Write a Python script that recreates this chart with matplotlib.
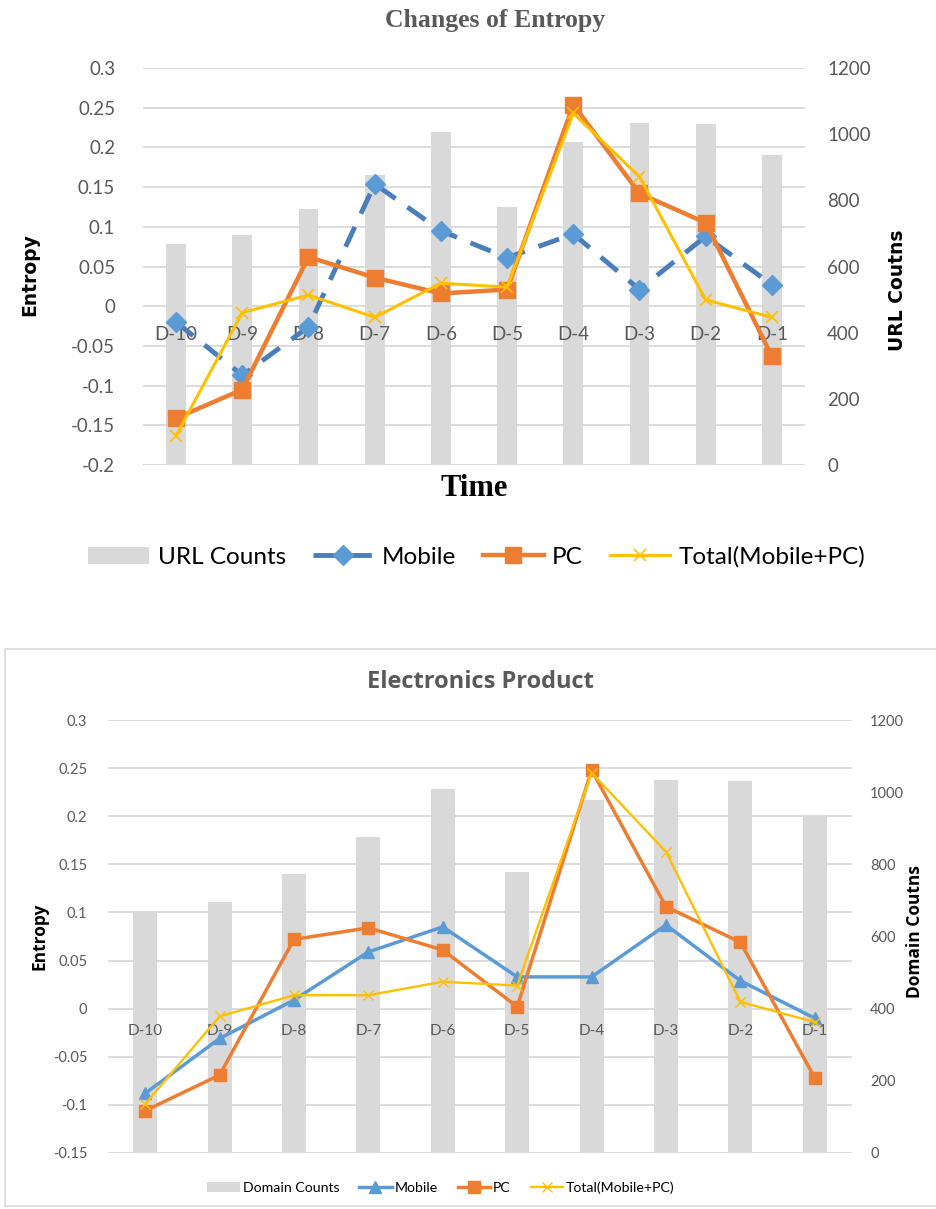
import numpy as np
import matplotlib
matplotlib.use("Agg")
import matplotlib.pyplot as plt
from matplotlib.patches import Patch, Rectangle
from matplotlib.lines import Line2D

days = ["D-10", "D-9", "D-8", "D-7", "D-6", "D-5", "D-4", "D-3", "D-2", "D-1"]

# top chart: Changes of Entropy
urlCounts = [668, 695, 774, 877, 1008, 780, 977, 1034, 1031, 938]
mobileTop = [-0.020, -0.087, -0.026, 0.154, 0.095, 0.061, 0.091, 0.021, 0.088, 0.027]
pcTop = [-0.141, -0.105, 0.062, 0.036, 0.016, 0.021, 0.254, 0.142, 0.105, -0.063]
totalTop = [-0.163, -0.008, 0.014, -0.014, 0.029, 0.024, 0.243, 0.163, 0.008, -0.014]

# bottom chart: Electronics Product
domainCounts = [668, 695, 774, 877, 1008, 780, 977, 1034, 1031, 938]
mobileBottom = [-0.088, -0.031, 0.009, 0.059, 0.085, 0.033, 0.033, 0.087, 0.029, -0.010]
pcBottom = [-0.106, -0.069, 0.072, 0.084, 0.061, 0.002, 0.248, 0.106, 0.069, -0.072]
totalBottom = [-0.099, -0.008, 0.014, 0.014, 0.028, 0.024, 0.245, 0.163, 0.007, -0.014]

BAR = "#D9D9D9"
BLUE_DARK = "#4A7EBB"
BLUE = "#5B9BD5"
ORANGE = "#ED7D31"
YELLOW = "#FFC000"
GRAY_TXT = "#595959"
GRID = "#D9D9D9"

W, H = 937, 1209
fig = plt.figure(figsize=(W / 100, H / 100), dpi=100)
plt.rcParams["font.family"] = ["Lato", "DejaVu Sans"]


def px(x0, y0, x1, y1):
    return [x0 / W, 1 - y1 / H, (x1 - x0) / W, (y1 - y0) / H]


def makeChart(rect, ylim, yticks, counts, mob, pc, tot, style):
    axBar = fig.add_axes(rect)
    ax = fig.add_axes(rect, sharex=axBar)
    ax.patch.set_visible(False)
    x = np.arange(len(days))

    axBar.bar(x, counts, width=style["barw"], color=BAR, zorder=1)
    axBar.set_ylim(0, 1200)
    axBar.set_yticks(np.arange(0, 1201, 200))
    axBar.yaxis.tick_right()
    axBar.tick_params(axis="y", length=0, pad=style["rpad"], labelsize=style["tick"], labelcolor=GRAY_TXT)
    axBar.tick_params(axis="x", length=0, labelbottom=False)
    for s in axBar.spines.values():
        s.set_visible(False)
    axBar.set_xlim(-0.5, len(days) - 0.5)

    ax.set_ylim(*ylim)
    ax.set_yticks(yticks)
    ax.set_yticklabels(["0" if abs(v) < 1e-9 else ("%g" % v) for v in yticks])
    ax.grid(axis="y", color=GRID, linewidth=1.3)
    ax.set_axisbelow(True)
    ax.tick_params(axis="y", length=0, pad=style["lpad"], labelsize=style["tick"], labelcolor=GRAY_TXT,
                   left=False, right=False, labelright=False)
    ax.set_xticks(x)
    ax.set_xticklabels(days)
    ax.tick_params(axis="x", length=0, pad=style["xpad"], labelsize=style["cat"], labelcolor=GRAY_TXT)
    for s in ax.spines.values():
        s.set_visible(False)
    ax.spines["bottom"].set_position(("data", 0))

    ax.plot(x, mob, **style["mobile"])
    ax.plot(x, pc, **style["pc"])
    ax.plot(x, tot, **style["total"])
    return ax


# ---------- top chart ----------
topStyle = {
    "barw": 0.3, "rpad": 16, "lpad": 20, "xpad": 14, "tick": 13.5, "cat": 13.5,
    "mobile": dict(color=BLUE_DARK, lw=3.5, dashes=(4.5, 3), marker="D", ms=10,
                   mfc=BLUE, mec=BLUE, zorder=3),
    "pc": dict(color=ORANGE, lw=3.2, marker="s", ms=12, mfc=ORANGE, mec=ORANGE, zorder=4),
    "total": dict(color=YELLOW, lw=2.2, marker="x", ms=9, mew=1.2, zorder=5),
}
makeChart(px(143, 68, 805, 465), (-0.2, 0.3), np.round(np.arange(-0.2, 0.301, 0.05), 2),
          urlCounts, mobileTop, pcTop, totalTop, topStyle)

fig.text(495 / W, 1 - 20 / H, "Changes of Entropy", ha="center", va="center",
         fontsize=18.5, fontweight="bold", color=GRAY_TXT, family="Liberation Serif")
fig.text(30 / W, 1 - 275 / H, "Entropy", rotation=90, ha="center", va="center",
         fontsize=13.5, fontweight="bold", family="DejaVu Sans")
fig.text(898 / W, 1 - 290 / H, "URL Coutns", rotation=90, ha="center", va="center",
         fontsize=13.5, fontweight="bold", family="DejaVu Sans")
fig.text(474 / W, 1 - 488 / H, "Time", ha="center", va="center",
         fontsize=22, fontweight="bold", family="Liberation Serif")

topHandles = [
    Patch(facecolor=BAR, edgecolor="none", label="URL Counts"),
    Line2D([], [], label="Mobile", **topStyle["mobile"]),
    Line2D([], [], label="PC", **topStyle["pc"]),
    Line2D([], [], label="Total(Mobile+PC)", **topStyle["total"]),
]
fig.legend(handles=topHandles, loc="center", bbox_to_anchor=(477 / W, 1 - 557 / H), ncol=4,
           frameon=False, fontsize=17.5, handlelength=2.5, handletextpad=0.35, columnspacing=1.1)

# ---------- bottom chart ----------
fig.patches.append(Rectangle((5 / W, 1 - 1206 / H), (W - 5) / W, (1206 - 649) / H,
                             transform=fig.transFigure, fill=False, edgecolor="#D9D9D9", lw=1.2))

bottomStyle = {
    "barw": 0.32, "rpad": 13, "lpad": 15, "xpad": 11, "tick": 10.5, "cat": 11,
    "mobile": dict(color=BLUE, lw=2.5, marker="^", ms=9, mfc=BLUE, mec=BLUE, zorder=3),
    "pc": dict(color=ORANGE, lw=2.5, marker="s", ms=8, mfc=ORANGE, mec=ORANGE, zorder=4),
    "total": dict(color=YELLOW, lw=1.7, marker="x", ms=7, mew=1, zorder=5),
}
makeChart(px(108, 720, 852, 1153), (-0.15, 0.3), np.round(np.arange(-0.15, 0.301, 0.05), 2),
          domainCounts, mobileBottom, pcBottom, totalBottom, bottomStyle)

fig.text(480 / W, 1 - 682 / H, "Electronics Product", ha="center", va="center",
         fontsize=17, fontweight="bold", color=GRAY_TXT, family="Open Sans")
fig.text(40 / W, 1 - 936 / H, "Entropy", rotation=90, ha="center", va="center",
         fontsize=12.5, fontweight="bold", family="Open Sans")
fig.text(915 / W, 1 - 932 / H, "Domain Coutns", rotation=90, ha="center", va="center",
         fontsize=12.5, fontweight="bold", family="Open Sans")

bottomHandles = [
    Patch(facecolor=BAR, edgecolor="none", label="Domain Counts"),
    Line2D([], [], label="Mobile", **bottomStyle["mobile"]),
    Line2D([], [], label="PC", **bottomStyle["pc"]),
    Line2D([], [], label="Total(Mobile+PC)", **bottomStyle["total"]),
]
fig.legend(handles=bottomHandles, loc="center", bbox_to_anchor=(441 / W, 1 - 1188 / H), ncol=4,
           frameon=False, fontsize=10.2, handlelength=2.3, handletextpad=0.2, columnspacing=1.4)

fig.savefig("out.png", dpi=100)
